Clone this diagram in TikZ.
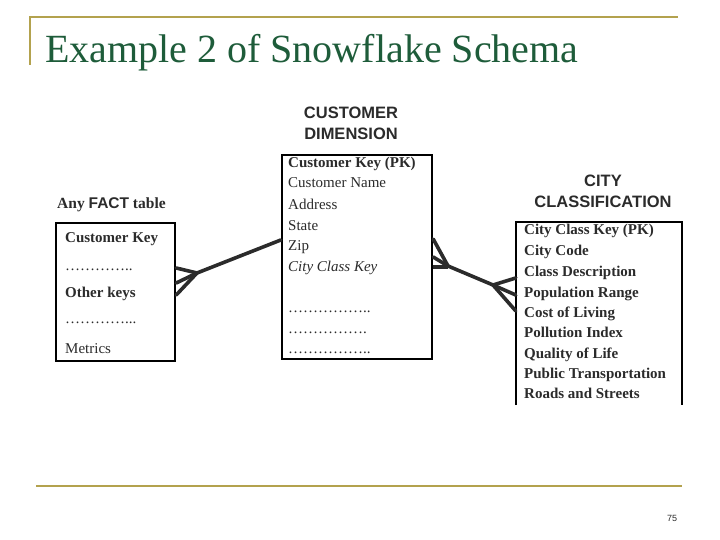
\documentclass[tikz,border=0pt]{standalone}
\usepackage{fontspec}
\setmainfont{Liberation Serif}
\setsansfont{Liberation Sans}
\usetikzlibrary{calc}
\definecolor{SlideGold}{HTML}{B3A24E}
\definecolor{SlideGreen}{HTML}{1E5C3A}
\definecolor{Ink}{HTML}{2B2B2B}

\begin{document}
\begin{tikzpicture}[x=1pt, y=-1pt,
   tbl/.style={draw=black, line width=2.4pt, inner sep=0pt},
   item/.style={anchor=base west, inner sep=0pt, text=Ink, font=\fontsize{15}{18}\selectfont},
   bitem/.style={item, font=\bfseries\fontsize{15}{18}\selectfont},
   head/.style={anchor=north, inner sep=0pt, align=center, text=Ink,
                font=\sffamily\bfseries\fontsize{16.5}{21}\selectfont},
   rule/.style={SlideGold, line width=2.5pt},
   link/.style={Ink, line width=3.6pt, line cap=round}]
  \useasboundingbox (0,0) rectangle (720,540);
  \draw[rule] (30,65) |- (678,17);
  \draw[rule] (36,486) -- (682,486);
  \node[anchor=base west, inner sep=0pt, text=SlideGreen, font=\fontsize{40}{48}\selectfont]
    (title) at (45,63) {Example 2 of Snowflake Schema};
  \node[anchor=base, inner sep=0pt, text=Ink, font=\sffamily\fontsize{9}{10}\selectfont]
    (page) at (672,521) {75};

  % fact table
  \node[tbl, minimum width=119, minimum height=138] (fact) at (115.5,292) {};
  \node[item, font=\bfseries\fontsize{15.5}{18}\selectfont] (factT) at (57,208)
    {Any \textsf{FACT} table};
  \node[bitem] (f1) at (65,242) {Customer Key};
  \node[item] (f2) at (65,270) {…………..};
  \node[bitem] (f3) at (65,297) {Other keys};
  \node[item] (f4) at (65,323) {…………...};
  \node[item] (f5) at (65,353) {Metrics};

  % customer dimension
  \node[tbl, minimum width=150, minimum height=204] (cust) at (357,257) {};
  \node[head] (custT) at (351,107) {CUSTOMER\\DIMENSION};
  \node[bitem] (c1) at (288,168) {Customer Key (PK)};
  \node[item] (c2) at (288,188) {Customer Name};
  \node[item] (c3) at (288,210) {Address};
  \node[item] (c4) at (288,230) {State};
  \node[item] (c5) at (288,250) {Zip};
  \node[item, font=\itshape\fontsize{15}{18}\selectfont] (c6) at (288,271) {City Class Key};
  \node[item] (c7) at (288,312) {……………..};
  \node[item] (c8) at (288,333) {…………….};
  \node[item] (c9) at (288,353) {……………..};

  % city classification
  \node[minimum width=166, minimum height=183, inner sep=0pt] (city) at (599,313.5) {};
  \draw[black, line width=2.4pt] (city.south west) |- (city.north east) -- (city.south east);
  \node[head] (cityT) at (603,175) {CITY\\CLASSIFICATION};
  \node[bitem] (k1) at (524,235) {City Class Key (PK)};
  \node[bitem] (k2) at (524,255) {City Code};
  \node[bitem] (k3) at (524,276) {Class Description};
  \node[bitem] (k4) at (524,297) {Population Range};
  \node[bitem] (k5) at (524,317) {Cost of Living};
  \node[bitem] (k6) at (524,337) {Pollution Index};
  \node[bitem] (k7) at (524,358) {Quality of Life};
  \node[bitem] (k8) at (524,378) {Public Transportation};
  \node[bitem] (k9) at (524,398) {Roads and Streets};

  % crow's feet
  \coordinate (fj) at (197,273);
  \coordinate (cj) at (448,266);
  \coordinate (kj) at (493,285);
  \draw[link] (fact.east |- 0,268) -- (fj);
  \draw[link] (fact.east |- 0,283) -- (fj);
  \draw[link] (fact.east |- 0,295) -- (fj);
  \draw[link] (fj) -- (cust.west |- 0,240);
  \draw[link] (cust.east |- 0,239) -- (cj);
  \draw[link] (cust.east |- 0,257) -- (cj);
  \draw[link, line width=4.5pt, line cap=butt] (cust.east |- 0,267) -- (cj |- 0,267);
  \draw[link] (cj) -- (kj);
  \draw[link] (kj) -- (city.west |- 0,278);
  \draw[link] (kj) -- (city.west |- 0,295);
  \draw[link] (kj) -- (city.west |- 0,311);
\end{tikzpicture}
\end{document}
